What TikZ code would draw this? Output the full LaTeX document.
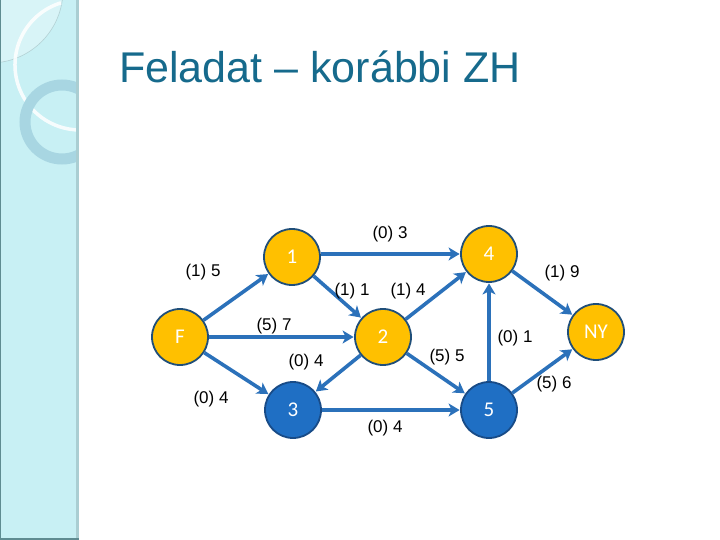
\documentclass[tikz,border=0pt]{standalone}
\usepackage{fontspec}
\setmainfont{Liberation Sans}
\newfontfamily\nodefont{Carlito}
\usetikzlibrary{arrows.meta}
\definecolor{band}{RGB}{200,240,244}
\definecolor{bandedge}{RGB}{170,206,210}
\definecolor{bandline}{RGB}{95,140,145}
\definecolor{ringc}{RGB}{168,214,226}
\definecolor{titlec}{RGB}{22,106,140}
\definecolor{gold}{RGB}{255,192,0}
\definecolor{goldedge}{RGB}{31,78,121}
\definecolor{bluen}{RGB}{31,111,196}
\definecolor{bluenedge}{RGB}{24,75,135}
\definecolor{edgec}{RGB}{43,113,186}
\tikzset{
  gnode/.style={circle, minimum size=56pt, inner sep=0pt, fill=gold, draw=goldedge, line width=1.8pt, text=white, font=\nodefont\fontsize{21}{21}\selectfont},
  bnode/.style={gnode, fill=bluen, draw=bluenedge},
  conn/.style={draw=edgec, line width=3.6pt, -{Stealth[length=11pt,width=13pt,inset=3pt]}, shorten >=0.5pt},
  lbl/.style={font=\fontsize{17}{17}\selectfont, inner sep=0pt}
}
\begin{document}
\begin{tikzpicture}[x=1pt,y=-1pt]
\useasboundingbox (0,0) rectangle (720,540);
\fill[white] (0,0) rectangle (720,540);
% left band
\fill[band] (0,0) rectangle (79,540);
\begin{scope}
\clip (0,0) rectangle (76,540);
\fill[white,opacity=0.3] (-10,-10) circle[radius=73];
\draw[bandline!60,opacity=0.6,line width=0.6pt] (-10,-10) circle[radius=73];
\draw[white,opacity=0.85,line width=3.5pt] (80,65) ++(253:65) arc[start angle=253,end angle=90,radius=65];
\draw[ringc,line width=11pt] (62,122) circle[radius=37];
\end{scope}
\fill[bandedge] (76,0) rectangle (79,540);
\fill[bandline] (0,0) rectangle (1.2,540);
\fill[bandline] (0,537.5) rectangle (79,540);
% title
\node[anchor=base west, inner sep=0pt, text=titlec, font=\fontsize{43}{43}\selectfont] (title) at (119,83) {Feladat – korábbi ZH};
% nodes
\node[gnode] (F) at (180,337) {F};
\node[gnode] (n1) at (292,257) {1};
\node[gnode] (n2) at (383,337) {2};
\node[gnode] (n4) at (489,254) {4};
\node[gnode] (NY) at (596,332) {NY};
\node[bnode] (n3) at (293,410) {3};
\node[bnode] (n5) at (489,410) {5};
% edges
\draw[conn] (F) -- (n1);
\draw[conn] (F) -- (n2);
\draw[conn] (F) -- (n3);
\draw[conn] (n1.east |- n4) -- (n4);
\draw[conn] (n1) -- (n2);
\draw[conn] (n2) -- (n4);
\draw[conn] (n2) -- (n3);
\draw[conn] (n2) -- (n5);
\draw[conn] (n3) -- (n5);
\draw[conn] (n5) -- (n4);
\draw[conn] (n4) -- (NY);
\draw[conn] (n5) -- (NY);
% labels
\node[lbl] (l13) at (390,234) {(0) 3};
\node[lbl] (lF1) at (203,272) {(1) 5};
\node[lbl] (l12) at (352,291) {(1) 1};
\node[lbl] (l24) at (408,291) {(1) 4};
\node[lbl] (lF2) at (274,326) {(5) 7};
\node[lbl] (l23) at (306,362) {(0) 4};
\node[lbl] (lF3) at (211,399) {(0) 4};
\node[lbl] (l35) at (385,428) {(0) 4};
\node[lbl] (l25) at (447,357) {(5) 5};
\node[lbl] (l54) at (515,338) {(0) 1};
\node[lbl] (l4N) at (562,273) {(1) 9};
\node[lbl] (l5N) at (554,384) {(5) 6};
\end{tikzpicture}
\end{document}
